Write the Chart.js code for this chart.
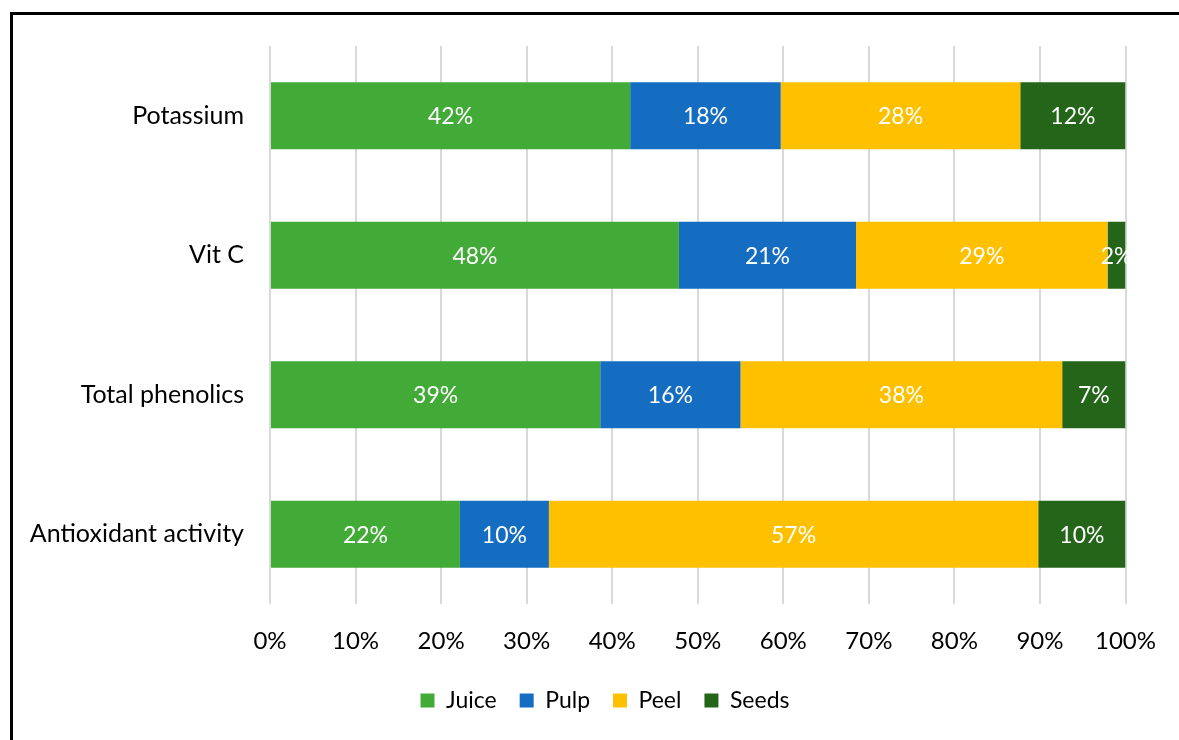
<!DOCTYPE html>
<html>
<head>
<meta charset="utf-8">
<script src="https://cdn.jsdelivr.net/npm/chart.js@4.4.0/dist/chart.umd.min.js"></script>
<style>
  html, body { margin: 0; padding: 0; background: #fff; overflow: hidden; }
  #wrap { position: absolute; left: 0; top: 0; width: 1179px; height: 740px; }
  #frame { position: absolute; left: 10px; top: 12px; width: 2000px; height: 2000px; border: 3px solid #000; box-sizing: border-box; pointer-events: none; }
</style>
</head>
<body>
<div id="wrap">
  <canvas id="chart" width="1179" height="740"></canvas>
</div>
<div id="frame"></div>
<script>
// categories (top to bottom) and share of each fraction, in %
const categories = ["Potassium", "Vit C", "Total phenolics", "Antioxidant activity"];
const juice = [42.1, 47.8, 38.6, 22.2];
const pulp = [17.6, 20.7, 16.4, 10.4];
const peel = [28.0, 29.4, 37.6, 57.2];
const seeds = [12.3, 2.1, 7.4, 10.2];
const xTicks = [0, 10, 20, 30, 40, 50, 60, 70, 80, 90, 100];

const FONT = "Lato, 'Open Sans', sans-serif";

// draws the white % labels in the middle of each segment
const segLabels = {
  id: 'segLabels',
  afterDatasetsDraw(chart) {
    const ctx = chart.ctx;
    ctx.save();
    ctx.fillStyle = '#fff';
    ctx.font = '23px ' + FONT;
    ctx.textAlign = 'center';
    ctx.textBaseline = 'middle';
    chart.data.datasets.forEach((ds, i) => {
      const meta = chart.getDatasetMeta(i);
      meta.data.forEach((bar, j) => {
        const cx = (bar.x + bar.base) / 2;
        ctx.fillText(Math.round(ds.data[j]) + '%', cx, bar.y + 1);
      });
    });
    ctx.restore();
  }
};

// fixed legend height, and legend centred a bit right like the original
const legendPlace = {
  id: 'legendPlace',
  beforeInit(chart) {
    const orig = chart.legend.fit;
    chart.legend.fit = function () {
      orig.call(this);
      this.height = 74;
    };
  },
  afterLayout(chart) {
    chart.legend.left += 36;
    chart.legend.right += 36;
  }
};

new Chart(document.getElementById('chart'), {
  type: 'bar',
  data: {
    labels: categories,
    datasets: [
      { label: 'Juice', data: juice, backgroundColor: '#42AA37' },
      { label: 'Pulp', data: pulp, backgroundColor: '#156DC2' },
      { label: 'Peel', data: peel, backgroundColor: '#FFC000' },
      { label: 'Seeds', data: seeds, backgroundColor: '#246519' }
    ]
  },
  options: {
    indexAxis: 'y',
    responsive: false,
    animation: false,
    layout: { padding: { left: 12, right: 53, top: 46, bottom: 0 } },
    datasets: { bar: { categoryPercentage: 1, barPercentage: 0.48, borderWidth: 0 } },
    scales: {
      x: {
        stacked: true,
        min: 0,
        max: 100,
        afterBuildTicks(scale) { scale.ticks = xTicks.map(v => ({ value: v })); },
        afterFit(scale) { scale.height = 62; },
        ticks: {
          callback: v => v + '%',
          color: '#000',
          font: { family: FONT, size: 24 },
          padding: 23,
          maxRotation: 0
        },
        grid: { color: '#d9d9d9', lineWidth: 2, drawTicks: false },
        border: { display: false }
      },
      y: {
        stacked: true,
        afterFit(scale) { scale.width = 258; },
        ticks: {
          color: '#000',
          font: { family: FONT, size: 25 },
          padding: 26
        },
        grid: { display: false, drawTicks: false },
        border: { display: false }
      }
    },
    plugins: {
      legend: {
        position: 'bottom',
        labels: {
          color: '#000',
          font: { family: FONT, size: 23 },
          boxWidth: 14,
          boxHeight: 14,
          padding: 23
        }
      },
      tooltip: { enabled: false }
    }
  },
  plugins: [segLabels, legendPlace]
});
</script>
</body>
</html>
